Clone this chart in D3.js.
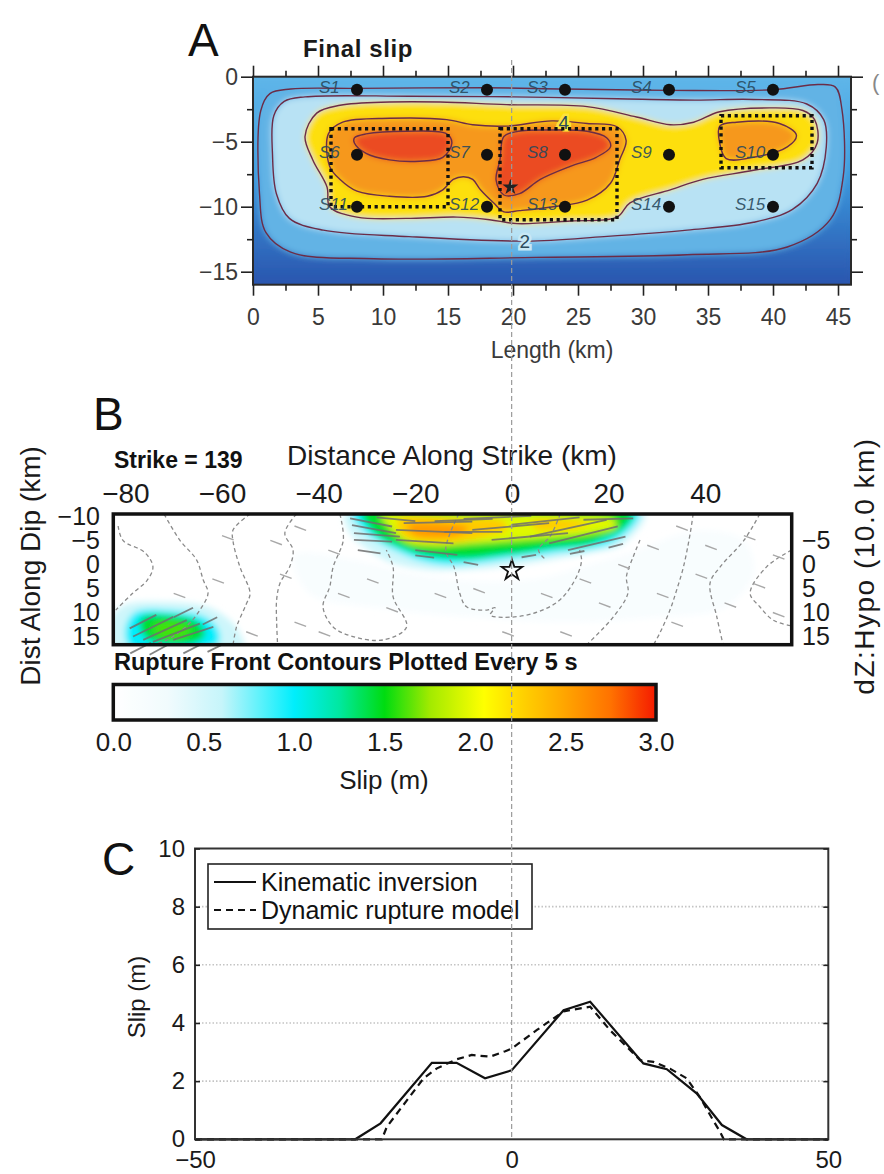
<!DOCTYPE html>
<html>
<head>
<meta charset="utf-8">
<script src="https://cdn.jsdelivr.net/npm/d3@7"></script>
<style>
body { margin: 0; background: #fff; }
svg { display: block; font-family: "Liberation Sans", Arial, Helvetica, sans-serif; }
</style>
</head>
<body>
<div id="fig"></div>
<script>
// ---------------- panel A : final slip (km along strike, km depth) ----------------
const staNames = ["S1","S2","S3","S4","S5","S6","S7","S8","S9","S10","S11","S12","S13","S14","S15"];
const staX = [8,18,24,32,40, 8,18,24,32,40, 8,18,24,32,40];
const staY = [-1,-1,-1,-1,-1, -6,-6,-6,-6,-6, -10,-10,-10,-10,-10];
const asperX0 = [6, 19, 36], asperX1 = [15, 28, 43];
const asperY0 = [-4, -4, -3], asperY1 = [-10, -11, -7];
const hypoA = [19.8, -8.5];

// slip contours (1 m interval)
const cA1 = [[0.6,-2.6],[1.3,-1.3],[2.9,-0.95],[8,-0.9],[18,-0.85],[24,-0.95],[32,-1.05],[40,-1.0],[43.5,-0.6],[44.8,-0.8],[45.3,-2.5],[45.4,-7.7],[44.4,-11],[41.1,-13.1],[33.4,-13.7],[21.8,-13.9],[9.3,-14],[2.9,-13.5],[1.0,-12],[0.5,-9]];
const cA2 = [[1.6,-3.0],[2.4,-1.9],[4,-1.55],[12,-1.5],[20,-1.55],[28,-1.7],[34,-1.8],[38.5,-1.75],[42.6,-2.1],[43.9,-3.3],[44.1,-5.4],[43.4,-8.2],[41.5,-10.2],[38.5,-11.2],[33.4,-11.8],[27,-12.3],[21,-12.65],[12,-12.3],[5.4,-11.8],[2.8,-10.9],[1.8,-9],[1.5,-6]];
const cA3 = [[4.0,-4.6],[4.9,-2.8],[6.7,-2.2],[10.5,-1.95],[14.4,-1.95],[19.5,-2.15],[25.7,-2.3],[29.5,-3.1],[32.1,-3.7],[33.9,-3.5],[35.9,-2.7],[39.8,-2.4],[42.3,-2.6],[43.2,-3.3],[43.4,-5.1],[42.3,-6.4],[38.5,-7.2],[34.6,-7.9],[32.1,-8.7],[29,-9.7],[28,-10.8],[24.4,-11.1],[20.3,-11.3],[18.2,-11.0],[15.7,-10.8],[11.8,-10.9],[8,-10.8],[5.9,-10.0],[5.7,-8.5],[4.6,-6.4]];
const cA4 = [[5.8,-4.4],[6.9,-3.5],[10.5,-3.2],[14.9,-3.3],[16.9,-3.7],[19.5,-3.8],[23,-3.4],[25.7,-3.6],[28,-3.85],[28.7,-4.9],[28.2,-6.4],[27.5,-8.2],[25.7,-9.5],[23.1,-10],[20.5,-10.3],[19.3,-10.4],[18.5,-9.7],[17.5,-8.7],[16.9,-7.9],[16.2,-7.7],[15.4,-7.9],[14.6,-8.7],[13.4,-9.2],[10.5,-9.2],[8,-8.8],[6.7,-7.9],[5.9,-6.9]];
const cA4b = [[35.9,-3.8],[37.2,-3.5],[40.5,-3.6],[41.8,-4.5],[41.1,-5.4],[38.5,-6.2],[36.4,-6.3],[35.9,-5.1]];
const cA5 = [[7.8,-4.7],[8.7,-4.4],[11.8,-4.2],[14.9,-4.4],[15.3,-5.1],[14.6,-6.2],[12.8,-6.5],[10.5,-6.4],[8.7,-5.9],[7.8,-5.1]];
const cA5b = [[19.3,-4.6],[20.4,-4.2],[23.1,-4.1],[25.7,-4.2],[27.2,-4.7],[27.5,-5.4],[26.4,-6.2],[24.4,-6.9],[22.1,-7.9],[20.5,-9],[19.3,-9.1],[18.7,-7.95],[19,-6.4]];
const levelsA = [1, 2, 3, 4, 4, 5, 5];
const polysA = [cA1, cA2, cA3, cA4, cA4b, cA5, cA5b];
const contourLabels = ["4", "2"];
const contourLabelPos = [[23.9,-3.45],[20.9,-12.65]];

// ---------------- panel B : slip (km along strike, km along dip) ----------------
const levelsB = [0.15, 0.55, 1.0, 1.45, 1.95, 2.3, 2.3, 2.55, 0.55, 1.0, 1.45, 1.6];
const polysB = [
  [[-45,-2],[-33,-1],[-20,2],[-8,3.5],[5,3],[16,0],[26,-3],[38,-7],[48,-5],[50,2],[44,9],[30,11],[12,12],[-8,11],[-28,9],[-42,6]],
  [[-34.5,-10.8],[27.5,-10.8],[27,-8.6],[24,-5.2],[22,-3.7],[16,-2.4],[11.6,-1.6],[5,-0.5],[0,0.2],[-8.1,1.0],[-16.1,1.2],[-22,0.4],[-25.6,-0.6],[-29,-2.6],[-31.9,-4.7],[-34,-7.5]],
  [[-33,-10.8],[26.3,-10.8],[25.5,-8.5],[23,-6],[20,-4.2],[15.6,-3.2],[8,-2.3],[3.7,-1.7],[-2,-1.0],[-8.1,-0.2],[-14,0],[-18.4,-0.7],[-22.5,-2.2],[-27.2,-4.5],[-30.5,-6.8]],
  [[-31,-10.8],[25,-10.8],[22.7,-7.2],[18,-5],[15.6,-4.2],[8,-3.4],[3.7,-2.7],[-3,-1.9],[-8.1,-1.3],[-14,-1.4],[-18.4,-2.0],[-23,-3.6],[-27.2,-5.5],[-29.5,-7.8]],
  [[-27,-10],[-10,-10.2],[8,-10.3],[21,-9.3],[21.5,-7.9],[17,-6.6],[8,-5.6],[0,-5],[-8,-4.4],[-16,-3.9],[-21.5,-4.6],[-24.2,-6.5],[-26,-8.6]],
  [[-23.5,-9.4],[-10,-9.5],[-2,-9],[-1,-7.5],[-5,-6],[-10,-4.9],[-16,-4.6],[-21.8,-5.6],[-23.5,-7.5]],
  [[4,-8.8],[12,-9.2],[16,-8.5],[12,-7.4],[5,-7.4]],
  [[-21.5,-8.2],[-13,-8.4],[-9,-7.6],[-11,-6.2],[-16,-5.6],[-20.5,-6.3]],
  [[-80,8.4],[-72,7.8],[-63,8.8],[-58,12],[-56,15],[-55.5,17.2],[-82.8,17.2],[-82.8,11]],
  [[-78,10],[-71,9.6],[-64,10.8],[-61,13.2],[-60.5,16],[-62,17.2],[-79,17.2],[-80,13.5]],
  [[-76.5,11],[-70,10.7],[-65,12],[-63.5,14.5],[-65.5,16.2],[-71,16.6],[-75.5,15.5],[-77,13]],
  [[-73.5,12.3],[-69,12],[-66.5,13.5],[-68,15.2],[-72,15.3],[-74,14]]
];
// rupture front contours every 5 s
const fronts = [
  [[-81.5,-8],[-80.5,-5],[-76,-2.5],[-74.3,0.5],[-75.5,3.3],[-78.5,6],[-82,9.5]],
  [[-72,-10.5],[-68.7,-5],[-65.3,-1],[-63.9,3.2],[-62.9,6],[-64.6,9.5],[-67,12.5],[-72,16],[-78,17]],
  [[-54.2,-10.5],[-57.7,-7.2],[-57.7,-4.7],[-56.3,0.5],[-54.2,6],[-55,8.3],[-57,13],[-57.7,16.7]],
  [[-44.6,-10.5],[-47,-6.5],[-45.3,-3],[-46,0.5],[-48,3.9],[-48.7,7.4],[-48.7,11.8],[-48.5,16.7]],
  [[-35.6,-10.5],[-34.9,-5.1],[-37,0.5],[-37.7,4.6],[-39.1,8.8],[-37,13],[-32.9,15],[-26.6,15.7],[-21.8,13],[-24.6,6.7],[-24.6,0.5],[-26,-3]],
  [[-11,-10.5],[-13.7,-3],[-12,0.5],[-10.8,6],[-9.4,8.8],[-5.2,9.5],[-3.5,9],[-4.5,10.5],[-2,11],[4.4,10.2],[9.9,7.4],[13.4,2.5],[14.4,-0.9],[14,-3]],
  [[10,-10.5],[8,-6],[5.5,-3],[7,-1]],
  [[26.5,-5.1],[25.1,-1.6],[23.7,2.5],[24,6],[21,10.9],[15.5,16.7]],
  [[37.5,-10.5],[36.9,-6.5],[35.5,0.5],[34.1,5.3],[32.7,9.5],[30.6,14.3],[29.3,16.7]],
  [[51.3,-10.5],[48,-5],[43.1,0.5],[41,3.9],[42.4,10.9],[43.7,16.7]],
  [[57.9,-3],[52.7,0.5],[49.3,6],[51.3,8.8],[54.1,11.6],[57.9,12.8]]
];
// slip vectors: start x, start y, dx, dy (km)
const vecX = [-33.5,-33.1,-32.7,-32.7,-31.9,-24,-22.4,-24,-20,-8.2,-4.2,3.7,7.7,11.6,14.8,-16,-10,-28,0,-14,-20,-10,2,12,20,-79.1,-78.4,-76.3,-74.3,-70.1,-79,-75,-68,-63,-70,-64];
const vecY = [-9.6,-8.2,-6.5,-5.1,-3,-7.2,-8.6,-5.1,-3,-7.2,-5.1,-5.8,-4.4,-3,-9.3,-9,-9.5,-9.8,-8.3,-6.8,-1.9,-0.5,-1.5,-2.2,-3.5,13.3,15,15.7,16.1,15.7,18.5,18.8,18.5,18.2,11,12.5];
const vecU = [8.7,9.1,9.5,7.9,4.7,15.8,14.2,11.9,8.7,15.9,15.8,15.9,14.2,11.9,10.3,12,14,8,14,12,3.9,3,3,3,3,5.5,8.3,9,9.7,8.3,4.3,4,3.5,3,4,3];
const vecV = [1.7,1.7,0.7,0.35,0.7,0.7,-0.3,0.7,1,-1.4,-1.4,-3.5,-3.5,-2.8,-0.3,-0.5,-0.6,0.8,-1.5,0,0.5,0.6,-0.5,-0.6,-0.8,-2.8,-4.1,-4.1,-3.8,-2.7,-2.2,-2.2,-1.8,-1.5,-2,-1.5];
const dashX = [-55,-45,-40,-36,-30,-26,-16,-8,-2,6,10,18,22,28,30,34,38,40,44,48,50,54,54,-48,-62,-70,-50,-60,-45,-38,33,14];
const dashY = [14,12,14,6,3,9,6,5,14,6,14,8,0,-4,6,-8,2,-4,8,-6,4,-2,10,2,3,6,-5,-6,-8,-3,12,3];
const hypoB = [0, 1.2];
const cbTicks = [0, 0.5, 1.0, 1.5, 2.0, 2.5, 3.0];

// ---------------- panel C : slip profile ----------------
const kinX = [-50,-24.7,-20.7,-12.6,-8.7,-4.2,0,8.2,12.4,20.8,24.5,29.2,33.2,37.1,50];
const kinY = [0,0,0.55,2.63,2.63,2.10,2.37,4.44,4.73,2.61,2.41,1.58,0.49,0,0];
const dynX = [-50,-20.5,-19.7,-13.9,-11.8,-8.7,-6.3,-3.4,-1.0,0,4.0,8.2,12.4,15.5,20.3,22.4,25.0,27.6,29.7,31.8,32.9,33.5,50];
const dynY = [0,0,0.43,2.10,2.44,2.75,2.90,2.84,3.03,3.12,3.76,4.40,4.56,3.76,2.72,2.66,2.43,2.10,1.46,0.66,0.26,0,0];
const seriesNames = ["Kinematic inversion", "Dynamic rupture model"];

const svg = d3.select("#fig").append("svg").attr("width", 884).attr("height", 1174);
const defs = svg.append("defs");

// ================= A =================
const xA = d3.scaleLinear().domain([0, 46]).range([253, 851]);
const yA = d3.scaleLinear().domain([0, -16]).range([76.7, 284.7]);
const colorA = d3.scaleLinear()
  .domain([0, 1, 2, 2.99, 3, 4, 5, 6])
  .range(["#2a55ae", "#45a2e0", "#a6dbf2", "#e3f3f8", "#fff200", "#f9b21d", "#ee5a22", "#e42a1c"]);
const lineA = d3.line().x(d => xA(d[0])).y(d => yA(d[1])).curve(d3.curveCatmullRomClosed.alpha(0.5));

const bgA = defs.append("linearGradient").attr("id", "bgA").attr("x1", 0).attr("y1", 0).attr("x2", 0).attr("y2", 1);
bgA.append("stop").attr("offset", "0%").attr("stop-color", "#5fb6e9");
bgA.append("stop").attr("offset", "45%").attr("stop-color", "#3c9bdf");
bgA.append("stop").attr("offset", "100%").attr("stop-color", colorA(0));
defs.append("clipPath").attr("id", "clipA").append("rect")
  .attr("x", xA(0)).attr("y", yA(0)).attr("width", xA(46) - xA(0)).attr("height", yA(-16) - yA(0));
defs.append("filter").attr("id", "blurA").attr("x", "-5%").attr("y", "-5%").attr("width", "110%").attr("height", "110%")
  .append("feGaussianBlur").attr("stdDeviation", 3.2);

const gA = svg.append("g").attr("clip-path", "url(#clipA)");
gA.append("rect").attr("x", xA(0)).attr("y", yA(0)).attr("width", xA(46) - xA(0)).attr("height", yA(-16) - yA(0)).attr("fill", "url(#bgA)");
const fillA = gA.append("g").attr("filter", "url(#blurA)");
fillA.append("rect").attr("x", xA(0)).attr("y", yA(0)).attr("width", xA(46) - xA(0)).attr("height", yA(-16) - yA(0)).attr("fill", "url(#bgA)");
fillA.selectAll("path").data(polysA).join("path")
  .attr("d", d => lineA(d))
  .attr("fill", (d, i) => colorA(levelsA[i] + 0.3));
gA.selectAll("path.cline").data(polysA).join("path").attr("class", "cline")
  .attr("d", d => lineA(d)).attr("fill", "none").attr("stroke", "#6b2c47").attr("stroke-width", 1.4);

gA.selectAll("text.clab").data(contourLabels).join("text").attr("class", "clab")
  .attr("x", (d, i) => xA(contourLabelPos[i][0])).attr("y", (d, i) => yA(contourLabelPos[i][1]) + 7)
  .attr("text-anchor", "middle").attr("font-size", 19).attr("fill", "#2b4b5c")
  .attr("stroke", (d, i) => i === 0 ? "#fde43a" : "#c7e8f5").attr("stroke-width", 5).attr("paint-order", "stroke")
  .text(d => d);

// asperities
gA.selectAll("rect.asp").data(asperX0).join("rect").attr("class", "asp")
  .attr("x", (d, i) => xA(asperX0[i])).attr("y", (d, i) => yA(asperY0[i]))
  .attr("width", (d, i) => xA(asperX1[i]) - xA(asperX0[i]))
  .attr("height", (d, i) => yA(asperY1[i]) - yA(asperY0[i]))
  .attr("fill", "none").attr("stroke", "#111").attr("stroke-width", 3.4).attr("stroke-dasharray", "3.2,3.6");

// stations
gA.selectAll("text.sta").data(staNames).join("text").attr("class", "sta")
  .attr("x", (d, i) => xA(staX[i]) - 38).attr("y", (d, i) => yA(staY[i]) + 3)
  .attr("font-size", 17).attr("font-style", "italic").attr("fill", "#28495c").attr("fill-opacity", 0.9)
  .text(d => d);
gA.selectAll("circle.sta").data(staNames).join("circle").attr("class", "sta")
  .attr("cx", (d, i) => xA(staX[i])).attr("cy", (d, i) => yA(staY[i])).attr("r", 6).attr("fill", "#111");
gA.append("path").attr("d", d3.symbol(d3.symbolStar, 80)())
  .attr("transform", `translate(${xA(hypoA[0])},${yA(hypoA[1])})`).attr("fill", "#222");

svg.append("rect").attr("x", xA(0)).attr("y", yA(0)).attr("width", xA(46) - xA(0)).attr("height", yA(-16) - yA(0))
  .attr("fill", "none").attr("stroke", "#2a2a2a").attr("stroke-width", 2);

function tidy(g, fs, col) {
  g.select(".domain").remove();
  g.selectAll(".tick line").attr("stroke", "#222").attr("stroke-width", 1.6);
  g.selectAll(".tick text").attr("font-size", fs).attr("fill", col).attr("font-family", "Liberation Sans, Arial, sans-serif");
}
const majX = d3.range(0, 46, 5), minX = d3.range(2.5, 46, 5);
const majY = [0, -5, -10, -15], minY = [-2.5, -7.5, -12.5];
svg.append("g").attr("transform", `translate(0,${yA(-16)})`)
  .call(d3.axisBottom(xA).tickValues(majX).tickSize(11).tickPadding(13)).call(g => tidy(g, 23, "#3a3a3a"));
svg.append("g").attr("transform", `translate(0,${yA(-16)})`)
  .call(d3.axisBottom(xA).tickValues(minX).tickSize(6).tickFormat("")).call(g => tidy(g, 23, "#3a3a3a"));
svg.append("g").attr("transform", `translate(0,${yA(0)})`)
  .call(d3.axisTop(xA).tickValues(majX).tickSize(11).tickFormat("")).call(g => tidy(g, 23, "#3a3a3a"));
svg.append("g").attr("transform", `translate(0,${yA(0)})`)
  .call(d3.axisTop(xA).tickValues(minX).tickSize(6).tickFormat("")).call(g => tidy(g, 23, "#3a3a3a"));
svg.append("g").attr("transform", `translate(${xA(0)},0)`)
  .call(d3.axisLeft(yA).tickValues(majY).tickSize(12).tickPadding(3)).call(g => tidy(g, 23, "#3a3a3a"));
svg.append("g").attr("transform", `translate(${xA(0)},0)`)
  .call(d3.axisLeft(yA).tickValues(minY).tickSize(6).tickFormat("")).call(g => tidy(g, 23, "#3a3a3a"));
svg.append("g").attr("transform", `translate(${xA(46)},0)`)
  .call(d3.axisRight(yA).tickValues(majY).tickSize(12).tickFormat("")).call(g => tidy(g, 23, "#3a3a3a"));
svg.append("g").attr("transform", `translate(${xA(46)},0)`)
  .call(d3.axisRight(yA).tickValues(minY).tickSize(6).tickFormat("")).call(g => tidy(g, 23, "#3a3a3a"));

svg.append("text").attr("x", 552).attr("y", 358).attr("text-anchor", "middle").attr("font-size", 23).attr("fill", "#3a3a3a").text("Length (km)");
svg.append("text").attr("x", 303).attr("y", 57).attr("font-size", 24).attr("font-weight", "bold").attr("letter-spacing", 0.6).attr("fill", "#1a1a1a").text("Final slip");
svg.append("text").attr("x", 188).attr("y", 56).attr("font-size", 46).attr("fill", "#111").text("A");
svg.append("text").attr("x", 872).attr("y", 90).attr("font-size", 22).attr("fill", "#888").text("(");

// ================= B =================
const xB = d3.scaleLinear().domain([-82.5, 57.9]).range([113.3, 791.7]);
const yB = d3.scaleLinear().domain([-10.5, 16.7]).range([514, 644.7]);
const colorB = d3.scaleLinear()
  .domain([0, 0.3, 0.6, 1.0, 1.25, 1.5, 1.75, 2.05, 2.25, 2.5, 2.75, 3.0])
  .range(["#ffffff", "#f1fbfd", "#c6f5fa", "#00eefc", "#00e8a0", "#00dc10", "#a2ea00", "#ffff00", "#ffd400", "#ffa400", "#ff7200", "#f51a00"]);
const lineB = d3.line().x(d => xB(d[0])).y(d => yB(d[1])).curve(d3.curveCatmullRomClosed.alpha(0.5));
const openB = d3.line().x(d => xB(d[0])).y(d => yB(d[1])).curve(d3.curveCatmullRom.alpha(0.5));

defs.append("clipPath").attr("id", "clipB").append("rect")
  .attr("x", xB(-82.5)).attr("y", yB(-10.5)).attr("width", xB(57.9) - xB(-82.5)).attr("height", yB(16.7) - yB(-10.5));
defs.append("filter").attr("id", "blurB").attr("x", "-10%").attr("y", "-20%").attr("width", "120%").attr("height", "140%")
  .append("feGaussianBlur").attr("stdDeviation", 3);

const gB = svg.append("g").attr("clip-path", "url(#clipB)");
gB.append("g").attr("filter", "url(#blurB)")
  .selectAll("path").data(polysB).join("path")
  .attr("d", d => lineB(d)).attr("fill", (d, i) => colorB(levelsB[i]));
gB.selectAll("path.front").data(fronts).join("path").attr("class", "front")
  .attr("d", d => openB(d)).attr("fill", "none").attr("stroke", "#8a8a8a").attr("stroke-width", 1.3).attr("stroke-dasharray", "4,3");

svg.append("g").selectAll("line").data(dashX).join("line")
  .attr("x1", (d, i) => xB(dashX[i])).attr("y1", (d, i) => yB(dashY[i]))
  .attr("x2", (d, i) => xB(dashX[i] + 2.4)).attr("y2", (d, i) => yB(dashY[i] + 0.9))
  .attr("stroke", "#a8a8a8").attr("stroke-width", 1.4);
svg.append("g").selectAll("line").data(vecX).join("line")
  .attr("x1", (d, i) => xB(vecX[i])).attr("y1", (d, i) => yB(vecY[i]))
  .attr("x2", (d, i) => xB(vecX[i] + vecU[i])).attr("y2", (d, i) => yB(vecY[i] + vecV[i]))
  .attr("stroke", "#6e6e6e").attr("stroke-opacity", 0.85).attr("stroke-width", 1.8);

svg.append("path").attr("d", d3.symbol(d3.symbolStar, 130)())
  .attr("transform", `translate(${xB(hypoB[0])},${yB(hypoB[1])})`)
  .attr("fill", "none").attr("stroke", "#111").attr("stroke-width", 1.8);

svg.append("rect").attr("x", xB(-82.5)).attr("y", yB(-10.5)).attr("width", xB(57.9) - xB(-82.5)).attr("height", yB(16.7) - yB(-10.5))
  .attr("fill", "none").attr("stroke", "#111").attr("stroke-width", 3.5);

svg.append("g").attr("transform", `translate(0,${yB(-10.5)})`)
  .call(d3.axisTop(xB).tickValues(d3.range(-80, 41, 20)).tickSize(0).tickPadding(11)).call(g => tidy(g, 28, "#1a1a1a"));
svg.append("g").attr("transform", `translate(100,0)`)
  .call(d3.axisLeft(yB).tickValues(d3.range(-10, 16, 5)).tickSize(0).tickPadding(0)).call(g => tidy(g, 25, "#1a1a1a"));
svg.append("g").attr("transform", `translate(802,0)`)
  .call(d3.axisRight(yB).tickValues(d3.range(-5, 16, 5)).tickSize(0).tickPadding(0)).call(g => tidy(g, 25, "#1a1a1a"));

svg.append("text").attr("x", 452).attr("y", 465).attr("text-anchor", "middle").attr("font-size", 28).attr("fill", "#1a1a1a").text("Distance Along Strike (km)");
svg.append("text").attr("x", 114).attr("y", 468).attr("font-size", 23).attr("font-weight", "bold").attr("fill", "#111").text("Strike = 139");
svg.append("text").attr("transform", "translate(40,566) rotate(-90)").attr("text-anchor", "middle").attr("font-size", 28).attr("fill", "#1a1a1a").text("Dist Along Dip (km)");
svg.append("text").attr("transform", "translate(874,566) rotate(-90)").attr("text-anchor", "middle").attr("font-size", 28).attr("letter-spacing", 1.5).attr("fill", "#1a1a1a").text("dZ:Hypo (10.0 km)");
svg.append("text").attr("x", 93).attr("y", 430).attr("font-size", 46).attr("fill", "#111").text("B");
svg.append("text").attr("x", 114).attr("y", 670).attr("font-size", 23.5).attr("font-weight", "bold").attr("fill", "#111").text("Rupture Front Contours Plotted Every 5 s");

// colorbar
const cbX = d3.scaleLinear().domain([0, 3]).range([113.3, 656]);
const cbGrad = defs.append("linearGradient").attr("id", "cbGrad");
cbGrad.selectAll("stop").data(d3.range(0, 3.001, 0.05)).join("stop")
  .attr("offset", d => (d / 3 * 100) + "%").attr("stop-color", d => colorB(d));
svg.append("rect").attr("x", cbX(0)).attr("y", 684.5).attr("width", cbX(3) - cbX(0)).attr("height", 35.5)
  .attr("fill", "url(#cbGrad)").attr("stroke", "#111").attr("stroke-width", 3.5);
svg.append("g").attr("transform", "translate(0,723)")
  .call(d3.axisBottom(cbX).tickValues(cbTicks).tickFormat(d3.format(".1f")).tickSize(0).tickPadding(10)).call(g => tidy(g, 26, "#1a1a1a"));
svg.append("text").attr("x", 384).attr("y", 789).attr("text-anchor", "middle").attr("font-size", 26).attr("fill", "#1a1a1a").text("Slip (m)");

// ================= C =================
const xC = d3.scaleLinear().domain([-50, 50]).range([195, 828.3]);
const yC = d3.scaleLinear().domain([0, 10]).range([1139.3, 848.5]);

svg.append("g").selectAll("line").data([2, 4, 6, 8]).join("line")
  .attr("x1", xC(-50)).attr("x2", xC(50)).attr("y1", d => yC(d)).attr("y2", d => yC(d))
  .attr("stroke", "#c4c4c4").attr("stroke-width", 1.6).attr("stroke-dasharray", "1.5,2");

const lineC = d3.line().x(d => xC(d[0])).y(d => yC(d[1]));
svg.append("path").attr("d", lineC(kinX.map((x, i) => [x, kinY[i]])))
  .attr("fill", "none").attr("stroke", "#111").attr("stroke-width", 2.2);
svg.append("path").attr("d", lineC(dynX.map((x, i) => [x, dynY[i]])))
  .attr("fill", "none").attr("stroke", "#111").attr("stroke-width", 2.2).attr("stroke-dasharray", "7,5");

svg.append("rect").attr("x", xC(-50)).attr("y", yC(10)).attr("width", xC(50) - xC(-50)).attr("height", yC(0) - yC(10))
  .attr("fill", "none").attr("stroke", "#333").attr("stroke-width", 2);
svg.append("g").attr("transform", `translate(${xC(-50)},0)`)
  .call(d3.axisLeft(yC).tickValues(d3.range(0, 11, 2)).tickSize(-5).tickPadding(10)).call(g => tidy(g, 24, "#1a1a1a"));
svg.append("g").attr("transform", `translate(${xC(50)},0)`)
  .call(d3.axisRight(yC).tickValues(d3.range(0, 11, 2)).tickSize(-5).tickFormat("")).call(g => tidy(g, 24, "#1a1a1a"));
svg.append("g").attr("transform", `translate(0,${yC(0)})`)
  .call(d3.axisBottom(xC).tickValues([-50, 0, 50]).tickSize(0).tickPadding(12)).call(g => tidy(g, 24, "#1a1a1a"));
svg.append("text").attr("transform", "translate(145,997) rotate(-90)").attr("text-anchor", "middle").attr("font-size", 24).attr("fill", "#1a1a1a").text("Slip (m)");
svg.append("text").attr("x", 102).attr("y", 875).attr("font-size", 46).attr("fill", "#111").text("C");

// legend
const leg = svg.append("g");
leg.append("rect").attr("x", 208).attr("y", 864).attr("width", 324).attr("height", 65)
  .attr("fill", "#fff").attr("stroke", "#222").attr("stroke-width", 1.6);
leg.selectAll("line").data(seriesNames).join("line")
  .attr("x1", 214).attr("x2", 256).attr("y1", (d, i) => 882 + i * 28).attr("y2", (d, i) => 882 + i * 28)
  .attr("stroke", "#111").attr("stroke-width", 2.2).attr("stroke-dasharray", (d, i) => i ? "7,5" : null);
leg.selectAll("text").data(seriesNames).join("text")
  .attr("x", 261).attr("y", (d, i) => 891 + i * 28).attr("font-size", 25).attr("fill", "#111").text(d => d);

// vertical reference line through the hypocentre
svg.append("line").attr("x1", xC(0)).attr("x2", xC(0)).attr("y1", 60).attr("y2", yC(0))
  .attr("stroke", "#9a9a9a").attr("stroke-width", 1.2).attr("stroke-dasharray", "5,3");
</script>
</body>
</html>
